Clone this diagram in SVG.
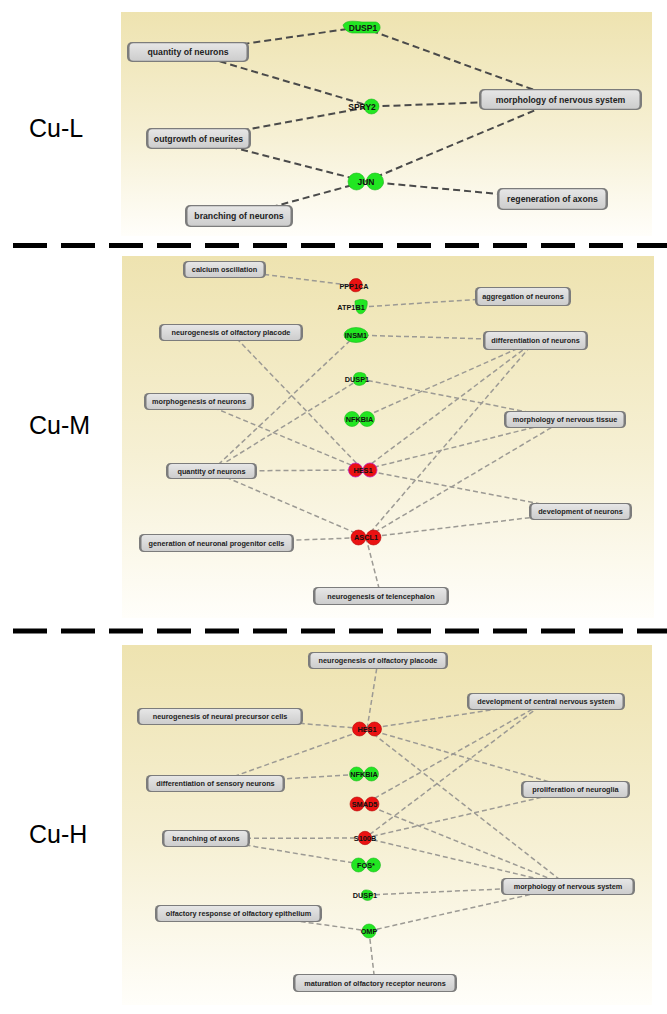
<svg xmlns="http://www.w3.org/2000/svg" width="667" height="1014" viewBox="0 0 667 1014">
<defs>
<linearGradient id="bg" x1="0" y1="0" x2="0" y2="1">
<stop offset="0" stop-color="#eee3b0"/>
<stop offset="0.55" stop-color="#f6f0d4"/>
<stop offset="1" stop-color="#fffefa"/>
</linearGradient>
<linearGradient id="boxg" x1="0" y1="0" x2="0" y2="1">
<stop offset="0" stop-color="#e6e6e6"/>
<stop offset="1" stop-color="#cdcdcd"/>
</linearGradient>
<style>
.sep{stroke:#000;stroke-width:5;stroke-dasharray:34 14;fill:none}
.lab{font-family:"Liberation Sans",Arial,sans-serif;font-size:25px;fill:#000}
.e1{stroke:#4a4a4a;stroke-width:2;stroke-dasharray:7 4;fill:none}
.e2{stroke:#9c9a94;stroke-width:1.5;stroke-dasharray:5 3;fill:none}
.bo{fill:#7c7c7c}
.bi{fill:url(#boxg)}
.t1{font-family:"Liberation Sans",Arial,sans-serif;font-weight:bold;font-size:8.7px;fill:#222;text-anchor:middle}
.t2{font-family:"Liberation Sans",Arial,sans-serif;font-weight:bold;font-size:7.3px;fill:#222;text-anchor:middle}
.g1{font-family:"Liberation Sans",Arial,sans-serif;font-weight:bold;font-size:8.5px;fill:#111;text-anchor:middle}
.g2{font-family:"Liberation Sans",Arial,sans-serif;font-weight:bold;font-size:7.3px;fill:#111;text-anchor:middle}
.gr{fill:#22e622;stroke:#1cb81c;stroke-width:0.6}
.rd{fill:#ea1212;stroke:#b40000;stroke-width:0.6}
.rm{fill:#ea1212;stroke:#c020c0;stroke-width:0.8}
</style>
</defs>

<!-- panel backgrounds -->
<rect x="121" y="12" width="531" height="224" fill="url(#bg)"/>
<rect x="122" y="256" width="532" height="362" fill="url(#bg)"/>
<rect x="122" y="645" width="530" height="360" fill="url(#bg)"/>

<!-- separators -->
<line class="sep" x1="13" y1="245.5" x2="667" y2="245.5"/>
<line class="sep" x1="13" y1="631" x2="667" y2="631"/>

<!-- panel labels -->
<text class="lab" x="29" y="137">Cu-L</text>
<text class="lab" x="29" y="434">Cu-M</text>
<text class="lab" x="29" y="843">Cu-H</text>

<!-- connectors -->
<g id="connectors">
<g id="edges-L">
<line class="e1" x1="188" y1="52" x2="361" y2="27"/>
<line class="e1" x1="361" y1="27" x2="560.5" y2="99.5"/>
<line class="e1" x1="188" y1="52" x2="371.5" y2="106.5"/>
<line class="e1" x1="198.5" y1="138.5" x2="371.5" y2="106.5"/>
<line class="e1" x1="371.5" y1="106.5" x2="560.5" y2="99.5"/>
<line class="e1" x1="198.5" y1="138.5" x2="365.5" y2="181.5"/>
<line class="e1" x1="239" y1="216" x2="365.5" y2="181.5"/>
<line class="e1" x1="365.5" y1="181.5" x2="560.5" y2="99.5"/>
<line class="e1" x1="365.5" y1="181.5" x2="552.5" y2="199"/>
</g>
<g id="edges-M">
<line class="e2" x1="224.5" y1="269.5" x2="356" y2="286"/>
<line class="e2" x1="361" y1="307" x2="523" y2="296.5"/>
<line class="e2" x1="356" y1="335" x2="535.5" y2="340.5"/>
<line class="e2" x1="356" y1="335" x2="211.5" y2="471"/>
<line class="e2" x1="231" y1="332.5" x2="363" y2="470"/>
<line class="e2" x1="360" y1="379" x2="211.5" y2="471"/>
<line class="e2" x1="360" y1="379" x2="565" y2="419.5"/>
<line class="e2" x1="359.5" y1="419" x2="535.5" y2="340.5"/>
<line class="e2" x1="199" y1="401.5" x2="363" y2="470"/>
<line class="e2" x1="211.5" y1="471" x2="363" y2="470"/>
<line class="e2" x1="211.5" y1="471" x2="366" y2="537.5"/>
<line class="e2" x1="535.5" y1="340.5" x2="363" y2="470"/>
<line class="e2" x1="535.5" y1="340.5" x2="366" y2="537.5"/>
<line class="e2" x1="565" y1="419.5" x2="363" y2="470"/>
<line class="e2" x1="565" y1="419.5" x2="366" y2="537.5"/>
<line class="e2" x1="363" y1="470" x2="580.5" y2="511.5"/>
<line class="e2" x1="366" y1="537.5" x2="580.5" y2="511.5"/>
<line class="e2" x1="216.5" y1="543" x2="366" y2="537.5"/>
<line class="e2" x1="366" y1="537.5" x2="381" y2="596"/>
</g>
<g id="edges-H">
<line class="e2" x1="378" y1="660.5" x2="367" y2="729"/>
<line class="e2" x1="220" y1="716.5" x2="367" y2="729"/>
<line class="e2" x1="367" y1="729" x2="546" y2="701.5"/>
<line class="e2" x1="367" y1="729" x2="215.5" y2="783"/>
<line class="e2" x1="364" y1="774" x2="215.5" y2="783"/>
<line class="e2" x1="367" y1="729" x2="575.5" y2="789.5"/>
<line class="e2" x1="367" y1="729" x2="568" y2="886"/>
<line class="e2" x1="546" y1="701.5" x2="364.5" y2="804"/>
<line class="e2" x1="546" y1="701.5" x2="365" y2="838"/>
<line class="e2" x1="364.5" y1="804" x2="568" y2="886"/>
<line class="e2" x1="365" y1="838" x2="575.5" y2="789.5"/>
<line class="e2" x1="365" y1="838" x2="568" y2="886"/>
<line class="e2" x1="206" y1="838.5" x2="365" y2="838"/>
<line class="e2" x1="206" y1="838.5" x2="366" y2="865"/>
<line class="e2" x1="367" y1="895" x2="568" y2="886"/>
<line class="e2" x1="369" y1="931" x2="238.5" y2="913"/>
<line class="e2" x1="369" y1="931" x2="568" y2="886"/>
<line class="e2" x1="369" y1="931" x2="375" y2="983"/>
</g>
</g>

<!-- ===== Panel Cu-L nodes ===== -->
<g id="L-quantity"><rect class="bo" x="127" y="42" width="122" height="20" rx="5"/><rect class="bi" x="129.5" y="43.2" width="117" height="17.6" rx="4"/><text class="t1" x="188" y="55">quantity of neurons</text></g>
<g id="L-outgrowth"><rect class="bo" x="146" y="128" width="105" height="21" rx="5"/><rect class="bi" x="148.5" y="129.2" width="100" height="18.6" rx="4"/><text class="t1" x="198.5" y="141.5">outgrowth of neurites</text></g>
<g id="L-branching"><rect class="bo" x="185" y="205" width="108" height="22" rx="5"/><rect class="bi" x="187.5" y="206.2" width="103" height="19.6" rx="4"/><text class="t1" x="239" y="219">branching of neurons</text></g>
<g id="L-morphology"><rect class="bo" x="479" y="89" width="163" height="21" rx="5"/><rect class="bi" x="481.5" y="90.2" width="158" height="18.6" rx="4"/><text class="t1" x="560.5" y="102.5">morphology of nervous system</text></g>
<g id="L-regeneration"><rect class="bo" x="497" y="188" width="111" height="22" rx="5"/><rect class="bi" x="499.5" y="189.2" width="106" height="19.6" rx="4"/><text class="t1" x="552.5" y="202">regeneration of axons</text></g>
<g id="L-DUSP1"><path class="gr" d="M343,25 C346,20 354,21 362,22 L376,22 C381,23 382,31 376,33 L352,33 C347,32 344,29 343,25 Z"/><text class="g1" x="363" y="30.5">DUSP1</text></g>
<g id="L-SPRY2"><circle class="gr" cx="371.5" cy="106.5" r="7.5"/><text class="g1" x="362" y="109.5">SPRY2</text></g>
<g id="L-JUN"><circle class="gr" cx="356.5" cy="181.5" r="8.5"/><circle class="gr" cx="375" cy="181.5" r="8.5"/><text class="g1" x="366" y="184.5">JUN</text></g>

<!-- ===== Panel Cu-M nodes ===== -->
<g id="M-calcium"><rect class="bo" x="183" y="261" width="83" height="17" rx="4.5"/><rect class="bi" x="185.5" y="262.1" width="78" height="14.8" rx="3.5"/><text class="t2" x="224.5" y="272.1">calcium oscillation</text></g>
<g id="M-olfplacode"><rect class="bo" x="159" y="324" width="144" height="17" rx="4.5"/><rect class="bi" x="161.5" y="325.1" width="139" height="14.8" rx="3.5"/><text class="t2" x="231" y="335.1">neurogenesis of olfactory placode</text></g>
<g id="M-morphogenesis"><rect class="bo" x="144" y="393" width="110" height="17" rx="4.5"/><rect class="bi" x="146.5" y="394.1" width="105" height="14.8" rx="3.5"/><text class="t2" x="199" y="404.1">morphogenesis of neurons</text></g>
<g id="M-quantity"><rect class="bo" x="166" y="463" width="91" height="16" rx="4.5"/><rect class="bi" x="168.5" y="464.1" width="86" height="13.8" rx="3.5"/><text class="t2" x="211.5" y="473.6">quantity of neurons</text></g>
<g id="M-generation"><rect class="bo" x="139" y="534" width="155" height="18" rx="4.5"/><rect class="bi" x="141.5" y="535.1" width="150" height="15.8" rx="3.5"/><text class="t2" x="216.5" y="545.6">generation of neuronal progenitor cells</text></g>
<g id="M-telencephalon"><rect class="bo" x="313" y="587" width="136" height="18" rx="4.5"/><rect class="bi" x="315.5" y="588.1" width="131" height="15.8" rx="3.5"/><text class="t2" x="381" y="598.6">neurogenesis of telencephalon</text></g>
<g id="M-aggregation"><rect class="bo" x="475" y="287" width="96" height="19" rx="4.5"/><rect class="bi" x="477.5" y="288.1" width="91" height="16.8" rx="3.5"/><text class="t2" x="523" y="299.1">aggregation of neurons</text></g>
<g id="M-differentiation"><rect class="bo" x="483" y="331" width="105" height="19" rx="4.5"/><rect class="bi" x="485.5" y="332.1" width="100" height="16.8" rx="3.5"/><text class="t2" x="535.5" y="343.1">differentiation of neurons</text></g>
<g id="M-morphtissue"><rect class="bo" x="504" y="411" width="122" height="17" rx="4.5"/><rect class="bi" x="506.5" y="412.1" width="117" height="14.8" rx="3.5"/><text class="t2" x="565" y="422.1">morphology of nervous tissue</text></g>
<g id="M-development"><rect class="bo" x="529" y="503" width="103" height="17" rx="4.5"/><rect class="bi" x="531.5" y="504.1" width="98" height="14.8" rx="3.5"/><text class="t2" x="580.5" y="514.1">development of neurons</text></g>
<g id="M-PPP1CA"><path class="rd" d="M351,281 C353,278 358,278 360,280 C363,282 363,289 359,291 C355,293 350,291 350,287 C349,285 349,283 351,281 Z"/><text class="g2" x="354" y="288.5">PPP1CA</text></g>
<g id="M-ATP1B1"><path class="gr" d="M355,301 C359,299 364,299 367,301 C368,305 366,311 363,313 C360,315 357,313 356,309 C355,306 355,303 355,301 Z"/><text class="g2" x="351" y="309.5">ATP1B1</text></g>
<g id="M-INSM1"><ellipse class="gr" cx="356" cy="335" rx="12" ry="7.5"/><text class="g2" x="356" y="337.6">INSM1</text></g>
<g id="M-DUSP1"><path class="gr" d="M355,374 C357,372 362,372 365,374 C367,377 367,382 364,384 C361,386 356,386 354,383 C353,380 353,376 355,374 Z"/><text class="g2" x="357" y="381.6">DUSP1</text></g>
<g id="M-NFKBIA"><circle class="gr" cx="352" cy="419" r="7.5"/><circle class="gr" cx="367" cy="419" r="7.5"/><text class="g2" x="359.5" y="421.6">NFKBIA</text></g>
<g id="M-HES1"><circle class="rm" cx="355.5" cy="470" r="7"/><circle class="rm" cx="370" cy="470" r="7"/><text class="g2" x="363" y="472.6">HES1</text></g>
<g id="M-ASCL1"><circle class="rd" cx="358.5" cy="537.5" r="7.5"/><circle class="rd" cx="373.5" cy="537.5" r="7.5"/><text class="g2" x="366" y="540.1">ASCL1</text></g>

<!-- ===== Panel Cu-H nodes ===== -->
<g id="H-olfplacode"><rect class="bo" x="308" y="652" width="140" height="17" rx="4.5"/><rect class="bi" x="310.5" y="653.1" width="135" height="14.8" rx="3.5"/><text class="t2" x="378" y="663.1">neurogenesis of olfactory placode</text></g>
<g id="H-precursor"><rect class="bo" x="137" y="708" width="166" height="17" rx="4.5"/><rect class="bi" x="139.5" y="709.1" width="161" height="14.8" rx="3.5"/><text class="t2" x="220" y="719.1">neurogenesis of neural precursor cells</text></g>
<g id="H-sensory"><rect class="bo" x="146" y="775" width="139" height="17" rx="4.5"/><rect class="bi" x="148.5" y="776.1" width="134" height="14.8" rx="3.5"/><text class="t2" x="215.5" y="786.1">differentiation of sensory neurons</text></g>
<g id="H-cns"><rect class="bo" x="467" y="693" width="158" height="17" rx="4.5"/><rect class="bi" x="469.5" y="694.1" width="153" height="14.8" rx="3.5"/><text class="t2" x="546" y="704.1">development of central nervous system</text></g>
<g id="H-neuroglia"><rect class="bo" x="521" y="781" width="109" height="17" rx="4.5"/><rect class="bi" x="523.5" y="782.1" width="104" height="14.8" rx="3.5"/><text class="t2" x="575.5" y="792.1">proliferation of neuroglia</text></g>
<g id="H-axons"><rect class="bo" x="162" y="830" width="88" height="17" rx="4.5"/><rect class="bi" x="164.5" y="831.1" width="83" height="14.8" rx="3.5"/><text class="t2" x="206" y="841.1">branching of axons</text></g>
<g id="H-olfresponse"><rect class="bo" x="155" y="905" width="167" height="17" rx="4.5"/><rect class="bi" x="157.5" y="906.1" width="162" height="14.8" rx="3.5"/><text class="t2" x="238.5" y="916.1">olfactory response of olfactory epithelium</text></g>
<g id="H-morphology"><rect class="bo" x="501" y="878" width="134" height="17" rx="4.5"/><rect class="bi" x="503.5" y="879.1" width="129" height="14.8" rx="3.5"/><text class="t2" x="568" y="889.1">morphology of nervous system</text></g>
<g id="H-maturation"><rect class="bo" x="293" y="974" width="164" height="18" rx="4.5"/><rect class="bi" x="295.5" y="975.1" width="159" height="15.8" rx="3.5"/><text class="t2" x="375" y="985.6">maturation of olfactory receptor neurons</text></g>
<g id="H-HES1"><circle class="rd" cx="359.5" cy="729" r="7"/><circle class="rd" cx="374.5" cy="729" r="7"/><text class="g2" x="367" y="731.6">HES1</text></g>
<g id="H-NFKBIA"><circle class="gr" cx="356.5" cy="774" r="7"/><circle class="gr" cx="371.5" cy="774" r="7"/><text class="g2" x="364" y="776.6">NFKBIA</text></g>
<g id="H-SMAD5"><circle class="rd" cx="357" cy="804" r="7"/><circle class="rd" cx="372" cy="804" r="7"/><text class="g2" x="364.5" y="806.6">SMAD5</text></g>
<g id="H-S100B"><circle class="rd" cx="365" cy="838" r="6.7"/><text class="g2" x="365" y="840.6">S100B</text></g>
<g id="H-FOS"><circle class="gr" cx="358.5" cy="865" r="7"/><circle class="gr" cx="373.5" cy="865" r="7"/><text class="g2" x="366" y="867.6">FOS*</text></g>
<g id="H-DUSP1"><path class="gr" d="M363,891 C365,889 370,890 372,892 C374,895 373,899 370,900 C367,901 363,900 362,897 C361,895 361,893 363,891 Z"/><text class="g2" x="365" y="897.6">DUSP1</text></g>
<g id="H-OMP"><circle class="gr" cx="369" cy="931" r="7"/><text class="g2" x="369" y="933.6">OMP</text></g>
</svg>
